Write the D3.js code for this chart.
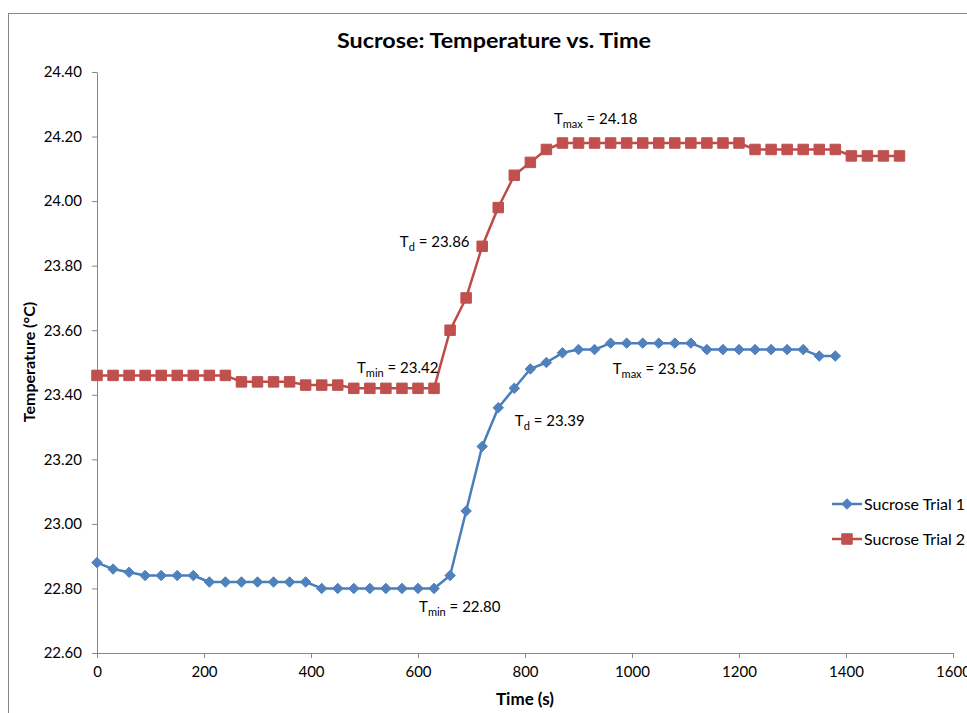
<!DOCTYPE html>
<html>
<head>
<meta charset="utf-8">
<script src="https://cdn.jsdelivr.net/npm/d3@7"></script>
<style>
  html, body { margin: 0; padding: 0; background: #fff; }
  svg { display: block; font-family: Lato, "Open Sans", sans-serif; }
</style>
</head>
<body>
<svg id="chart" width="967" height="713"></svg>
<script>
// ---- data ----
const trial1Times = d3.range(0, 1381, 30);
const trial1Temps = [
  22.88, 22.86, 22.85, 22.84, 22.84, 22.84, 22.84, 22.82, 22.82, 22.82,
  22.82, 22.82, 22.82, 22.82, 22.80, 22.80, 22.80, 22.80, 22.80, 22.80,
  22.80, 22.80, 22.84, 23.04, 23.24, 23.36, 23.42, 23.48, 23.50, 23.53,
  23.54, 23.54, 23.56, 23.56, 23.56, 23.56, 23.56, 23.56, 23.54, 23.54,
  23.54, 23.54, 23.54, 23.54, 23.54, 23.52, 23.52
];
const trial2Times = d3.range(0, 1501, 30);
const trial2Temps = [
  23.46, 23.46, 23.46, 23.46, 23.46, 23.46, 23.46, 23.46, 23.46, 23.44,
  23.44, 23.44, 23.44, 23.43, 23.43, 23.43, 23.42, 23.42, 23.42, 23.42,
  23.42, 23.42, 23.60, 23.70, 23.86, 23.98, 24.08, 24.12, 24.16, 24.18,
  24.18, 24.18, 24.18, 24.18, 24.18, 24.18, 24.18, 24.18, 24.18, 24.18,
  24.18, 24.16, 24.16, 24.16, 24.16, 24.16, 24.16, 24.14, 24.14, 24.14,
  24.14
];
const seriesNames = ["Sucrose Trial 1", "Sucrose Trial 2"];
const xTicks = [0, 200, 400, 600, 800, 1000, 1200, 1400, 1600];
const yTicks = [22.60, 22.80, 23.00, 23.20, 23.40, 23.60, 23.80, 24.00, 24.20, 24.40];
// annotation labels: [main, subscript, rest, time, temperature]
const annotations = [
  ["T", "max", " = 24.18", 854, 24.239],
  ["T", "d", " = 23.86", 566, 23.858],
  ["T", "min", " = 23.42", 486, 23.467],
  ["T", "max", " = 23.56", 964, 23.464],
  ["T", "d", " = 23.39", 781, 23.303],
  ["T", "min", " = 22.80", 602, 22.727]
];

// ---- layout ----
const svg = d3.select("#chart");
const plot = { left: 97, right: 953, top: 72, bottom: 653 };
const colors = ["#4A7EBB", "#BE4B48"];
const markerFill = ["#4F81BD", "#C0504D"];

svg.append("rect").attr("x", 8.5).attr("y", 13.5).attr("width", 980).attr("height", 720)
  .attr("fill", "#fff").attr("stroke", "#868686").attr("stroke-width", 1);

const x = d3.scaleLinear().domain([0, 1600]).range([plot.left, plot.right]);
const y = d3.scaleLinear().domain([22.6, 24.4]).range([plot.bottom, plot.top]);

// title
svg.append("text").attr("x", 494).attr("y", 48).attr("text-anchor", "middle")
  .attr("font-size", 21).attr("font-weight", "bold").attr("fill", "#000")
  .attr("textLength", 314).attr("lengthAdjust", "spacingAndGlyphs")
  .text("Sucrose: Temperature vs. Time");

// axes
const yAxis = svg.append("g").attr("transform", `translate(${plot.left},0)`)
  .call(d3.axisLeft(y).tickValues(yTicks).tickFormat(d3.format(".2f")).tickSize(5).tickSizeOuter(0).tickPadding(10));
const xAxis = svg.append("g").attr("transform", `translate(0,${plot.bottom})`)
  .call(d3.axisBottom(x).tickValues(xTicks).tickFormat(d3.format("d")).tickSize(5).tickSizeOuter(0).tickPadding(8));
[yAxis, xAxis].forEach(g => {
  g.select(".domain").attr("stroke", "#868686");
  g.selectAll(".tick line").attr("stroke", "#868686");
  g.selectAll(".tick text").attr("font-size", 15).attr("fill", "#000")
    .attr("font-family", "Lato, 'Open Sans', sans-serif");
});

// axis titles
svg.append("text").attr("transform", "translate(35,362) rotate(-90)")
  .attr("text-anchor", "middle").attr("font-size", 16).attr("font-weight", "bold")
  .text("Temperature (°C)");
svg.append("text").attr("x", 525).attr("y", 705).attr("text-anchor", "middle")
  .attr("font-size", 17).attr("font-weight", "bold").text("Time (s)");

// series
const series = [
  trial1Times.map((t, i) => ({ t, v: trial1Temps[i] })),
  trial2Times.map((t, i) => ({ t, v: trial2Temps[i] }))
];
const line = d3.line().x(d => x(d.t)).y(d => y(d.v));
const diamond = d3.symbol().type(d3.symbolDiamond2).size(70);
const square = d3.symbol().type(d3.symbolSquare).size(110);
const symbols = [diamond, square];

series.forEach((data, k) => {
  svg.append("path").datum(data).attr("d", line).attr("fill", "none")
    .attr("stroke", colors[k]).attr("stroke-width", 2.5).attr("stroke-linejoin", "round");
  svg.append("g").selectAll("path").data(data).join("path")
    .attr("transform", d => `translate(${x(d.t)},${y(d.v)})`)
    .attr("d", symbols[k]).attr("fill", markerFill[k]).attr("stroke", markerFill[k]).attr("stroke-width", 1);
});

// annotations
annotations.forEach(a => {
  const t = svg.append("text").attr("x", x(a[3])).attr("y", y(a[4]))
    .attr("font-size", 15).attr("fill", "#000");
  t.append("tspan").text(a[0]);
  t.append("tspan").attr("font-size", 11).attr("dy", 4).text(a[1]);
  t.append("tspan").attr("dy", -4).text(a[2]);
});

// legend
const legendY = [504, 539];
seriesNames.forEach((name, k) => {
  const g = svg.append("g");
  g.append("line").attr("x1", 832).attr("x2", 862).attr("y1", legendY[k]).attr("y2", legendY[k])
    .attr("stroke", colors[k]).attr("stroke-width", 2.5);
  g.append("path").attr("transform", `translate(847,${legendY[k]})`).attr("d", symbols[k])
    .attr("fill", markerFill[k]).attr("stroke", markerFill[k]);
  g.append("text").attr("x", 864).attr("y", legendY[k]).attr("dy", "0.35em")
    .attr("font-size", 16).attr("fill", "#000").text(name);
});
</script>
</body>
</html>
